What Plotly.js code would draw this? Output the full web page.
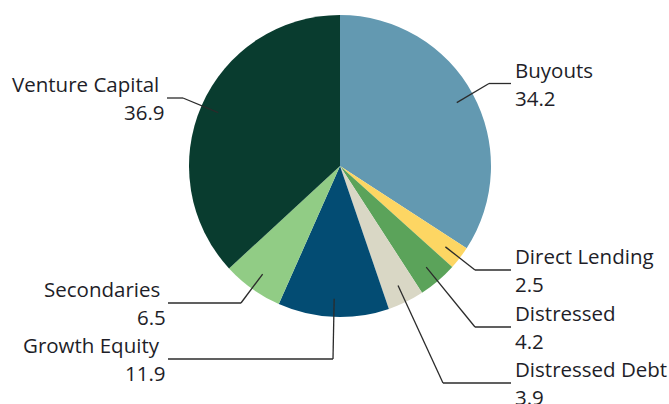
<!DOCTYPE html>
<html>
<head>
<meta charset="utf-8">
<script src="https://cdn.plot.ly/plotly-3.0.1.min.js"></script>
<style>html,body{margin:0;padding:0;background:#fff;}#chart{width:669px;height:404px;}</style>
</head>
<body>
<div id="chart"></div>
<script>
// ---- data ----
const categories = ["Buyouts", "Direct Lending", "Distressed", "Distressed Debt", "Growth Equity", "Secondaries", "Venture Capital"];
const values = [34.2, 2.5, 4.2, 3.9, 11.9, 6.5, 36.9];
const valueLabels = ["34.2", "2.5", "4.2", "3.9", "11.9", "6.5", "36.9"];

// ---- styles / layout ----
const colors = ["#6399b1", "#fdd663", "#5ba35a", "#d9d7c5", "#034c73", "#91cc85", "#093c2f"];
const W = 669, H = 404;
const cx = 340, cy = 166, R = 151;
// leader-line elbows and text placement (pixels)
const leaderElbowX = [489, 475, 475, 443, 333, 241, 183];
const leaderElbowY = [83.5, 270, 327, 383, 359, 303, 98];
const leaderEndX   = [511, 511, 511, 511, 168, 168, 167];
const side         = ["r", "r", "r", "r", "l", "l", "l"];

const px = x => x / W;
const py = y => 1 - y / H;

const total = values.reduce((a, b) => a + b, 0);
const shapes = [];
const annotations = [];
const lineStyle = {color: "#2b2b2b", width: 1.3};
const font = {family: "Open Sans, sans-serif", size: 20.5, color: "#1e1e28"};
let cum = 0;
values.forEach((v, i) => {
  const mid = (cum + v / 2) / total * 2 * Math.PI;
  cum += v;
  const ix = cx + 0.88 * R * Math.sin(mid);
  const iy = cy - 0.88 * R * Math.cos(mid);
  const ex = leaderElbowX[i], ey = leaderElbowY[i], endx = leaderEndX[i];
  shapes.push({type: "line", xref: "paper", yref: "paper", x0: px(ix), y0: py(iy), x1: px(ex), y1: py(ey), line: lineStyle});
  shapes.push({type: "line", xref: "paper", yref: "paper", x0: px(ex), y0: py(ey), x1: px(endx), y1: py(ey), line: lineStyle});
  if (side[i] === "r") {
    annotations.push({xref: "paper", yref: "paper", x: px(endx + 2), y: py(ey - 14), xanchor: "left", yanchor: "middle", text: categories[i], showarrow: false, font: font});
    annotations.push({xref: "paper", yref: "paper", x: px(endx + 2), y: py(ey + 14), xanchor: "left", yanchor: "middle", text: valueLabels[i], showarrow: false, font: font});
  } else {
    annotations.push({xref: "paper", yref: "paper", x: px(endx - 6), y: py(ey - 14), xanchor: "right", yanchor: "middle", text: categories[i], showarrow: false, font: font});
    annotations.push({xref: "paper", yref: "paper", x: px(endx + 0), y: py(ey + 14), xanchor: "right", yanchor: "middle", text: valueLabels[i], showarrow: false, font: font});
  }
});

const trace = {
  type: "pie",
  labels: categories,
  values: values,
  sort: false,
  direction: "clockwise",
  rotation: 0,
  textinfo: "none",
  hoverinfo: "label+value",
  marker: {colors: colors, line: {width: 0}},
  domain: {x: [px(cx - R), px(cx + R)], y: [py(cy + R), py(cy - R)]}
};

const layout = {
  width: W, height: H,
  margin: {l: 0, r: 0, t: 0, b: 0},
  paper_bgcolor: "#ffffff",
  showlegend: false,
  shapes: shapes,
  annotations: annotations,
  font: font
};

Plotly.newPlot("chart", [trace], layout, {displayModeBar: false, staticPlot: true});
</script>
</body>
</html>
